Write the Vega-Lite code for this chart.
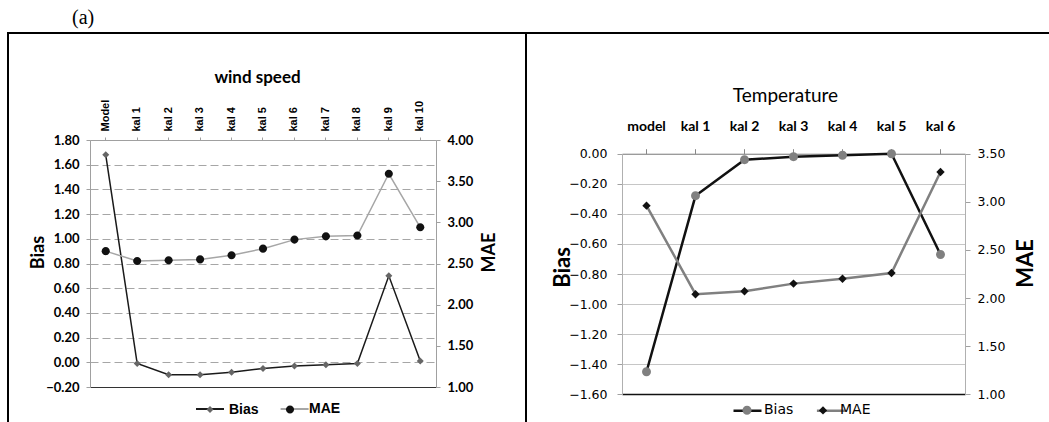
{
  "$schema": "https://vega.github.io/schema/vega-lite/v6.json",
  "autosize": {"type": "pad"},
  "padding": {"left": 7, "top": 8, "right": 0, "bottom": 0},
  "background": "white",
  "title": {"text": "(a)", "anchor": "start", "frame": "group", "dx": 64, "offset": 4, "font": "Liberation Serif", "fontSize": 20, "fontWeight": "normal", "color": "black"},
  "config": {
    "view": {"stroke": "black", "strokeWidth": 2},
    "concat": {"spacing": 0},
    "axis": {"labelColor": "black", "titleColor": "black", "labelOverlap": false}
  },
  "bounds": "flush",
  "spacing": 0,
  "datasets": {
    "wind": [
      {"cat": "Model", "Bias": 1.68, "MAE": 2.65},
      {"cat": "kal 1", "Bias": -0.01, "MAE": 2.53},
      {"cat": "kal 2", "Bias": -0.10, "MAE": 2.54},
      {"cat": "kal 3", "Bias": -0.10, "MAE": 2.55},
      {"cat": "kal 4", "Bias": -0.08, "MAE": 2.60},
      {"cat": "kal 5", "Bias": -0.05, "MAE": 2.68},
      {"cat": "kal 6", "Bias": -0.03, "MAE": 2.79},
      {"cat": "kal 7", "Bias": -0.02, "MAE": 2.83},
      {"cat": "kal 8", "Bias": -0.01, "MAE": 2.84},
      {"cat": "kal 9", "Bias": 0.70, "MAE": 3.59},
      {"cat": "kal 10", "Bias": 0.01, "MAE": 2.94}
    ],
    "temp": [
      {"cat": "model", "Bias": -1.45, "MAE": 2.96},
      {"cat": "kal 1", "Bias": -0.28, "MAE": 2.04},
      {"cat": "kal 2", "Bias": -0.04, "MAE": 2.07},
      {"cat": "kal 3", "Bias": -0.02, "MAE": 2.15},
      {"cat": "kal 4", "Bias": -0.01, "MAE": 2.20},
      {"cat": "kal 5", "Bias": 0.0, "MAE": 2.26},
      {"cat": "kal 6", "Bias": -0.67, "MAE": 3.31}
    ]
  },
  "resolve": {"scale": {"stroke": "independent", "fill": "independent", "shape": "independent"}},
  "hconcat": [
    {
      "width": 518,
      "height": 408,
      "data": {"name": "wind"},
      "encoding": {
        "x": {
          "field": "cat", "type": "nominal", "sort": null,
          "scale": {"type": "band", "range": [82, 428], "paddingInner": 0, "paddingOuter": 0},
          "axis": {
            "orient": "top", "offset": -107, "grid": false,
            "labelAngle": -90, "labelFont": "Liberation Sans", "labelFontSize": 11, "labelFontWeight": "bold", "labelPadding": 6,
            "tickSize": 3, "tickColor": "#a0a0a0", "domainColor": "#a0a0a0",
            "title": "wind speed", "titleX": 249, "titleY": -63, "titleBaseline": "middle", "titleAlign": "center",
            "titleFont": "Lato", "titleFontSize": 17, "titleFontWeight": "bold"
          }
        }
      },
      "layer": [
        {
          "encoding": {
            "y": {
              "field": "Bias", "type": "quantitative",
              "scale": {"domain": [-0.2, 1.8], "range": [354, 107], "nice": false, "zero": false},
              "axis": {
                "orient": "left", "offset": -82,
                "values": [-0.2, 0, 0.2, 0.4, 0.6, 0.8, 1.0, 1.2, 1.4, 1.6, 1.8], "format": ".2f",
                "labelFont": "Lato", "labelFontSize": 13, "labelFontWeight": "bold", "labelPadding": 7,
                "tickSize": 4, "tickColor": "#a0a0a0", "domainColor": "#a0a0a0",
                "grid": true,
                "gridColor": {"condition": {"test": "datum.value < -0.19", "value": "#333333"}, "value": "#a6a6a6"},
                "gridDash": {"condition": {"test": "datum.value < -0.19", "value": []}, "value": [8, 4]},
                "gridWidth": 1,
                "title": "Bias", "titleX": -52, "titleY": 219, "titleAngle": -90, "titleBaseline": "middle", "titleAlign": "center",
                "titleFont": "Lato", "titleFontSize": 18, "titleFontWeight": "bold"
              }
            }
          },
          "layer": [
            {
              "mark": {"type": "line", "strokeWidth": 1.5},
              "encoding": {
                "stroke": {"datum": "Bias", "type": "nominal",
                  "scale": {"domain": ["Bias", "MAE"], "range": ["#1a1a1a", "#a6a6a6"]},
                  "legend": {"title": null, "orient": "none", "legendX": 187, "legendY": 361, "direction": "horizontal", "symbolSize": 784, "symbolType": "M-1,0H1", "symbolStrokeWidth": 2, "labelExpr": "''", "labelFont": "Liberation Sans", "labelFontSize": 14, "labelOffset": 1, "columnPadding": 48.6, "padding": 0, "symbolOpacity": 1, "zindex": 0}}
              }
            },
            {
              "mark": {"type": "point", "filled": true, "opacity": 1, "size": 784},
              "encoding": {
                "fill": {"datum": "Bias ", "type": "nominal",
                  "scale": {"domain": ["Bias ", "MAE "], "range": ["#666666", "#111111"]},
                  "legend": {"title": null, "orient": "none", "legendX": 187, "legendY": 361, "direction": "horizontal", "symbolSize": 784, "labelFont": "Liberation Sans", "labelFontSize": 14, "labelFontWeight": "bold", "labelColor": "black", "labelExpr": "trim(datum.label)", "labelOffset": 4, "columnPadding": 16, "padding": 0, "symbolOpacity": 1, "zindex": 1}},
                "shape": {"datum": "Bias ", "type": "nominal",
                  "scale": {"domain": ["Bias ", "MAE "], "range": ["M0,-0.25L0.25,0L0,0.25L-0.25,0Z", "M0.29,0A0.29,0.29 0 1,1 -0.29,0A0.29,0.29 0 1,1 0.29,0Z"]},
                  "legend": {"title": null, "orient": "none", "legendX": 187, "legendY": 361, "direction": "horizontal", "symbolSize": 784, "labelFont": "Liberation Sans", "labelFontSize": 14, "labelFontWeight": "bold", "labelColor": "black", "labelExpr": "trim(datum.label)", "labelOffset": 4, "columnPadding": 16, "padding": 0, "symbolOpacity": 1, "zindex": 1}}
              }
            }
          ]
        },
        {
          "encoding": {
            "y": {
              "field": "MAE", "type": "quantitative",
              "scale": {"domain": [1, 4], "range": [354, 107], "nice": false, "zero": false},
              "axis": {
                "orient": "right", "offset": -90,
                "values": [1, 1.5, 2, 2.5, 3, 3.5, 4], "format": ".2f",
                "labelFont": "Lato", "labelFontSize": 13, "labelFontWeight": "bold", "labelPadding": 7,
                "tickSize": 4, "tickColor": "#a0a0a0", "domainColor": "#a0a0a0",
                "grid": false,
                "title": "MAE", "titleX": 53, "titleY": 219, "titleAngle": -90, "titleBaseline": "middle", "titleAlign": "center",
                "titleFont": "Lato", "titleFontSize": 18, "titleFontWeight": "bold"
              }
            }
          },
          "layer": [
            {
              "mark": {"type": "line", "strokeWidth": 1.5},
              "encoding": {
                "stroke": {"datum": "MAE", "type": "nominal"}
              }
            },
            {
              "mark": {"type": "point", "filled": true, "opacity": 1, "size": 784},
              "encoding": {
                "fill": {"datum": "MAE ", "type": "nominal"},
                "shape": {"datum": "MAE ", "type": "nominal"}
              }
            }
          ]
        }
      ],
      "resolve": {"scale": {"y": "independent"}}
    },
    {
      "width": 534,
      "height": 408,
      "data": {"name": "temp"},
      "encoding": {
        "x": {
          "field": "cat", "type": "nominal", "sort": null,
          "scale": {"type": "band", "range": [96, 439], "paddingInner": 0, "paddingOuter": 0},
          "axis": {
            "orient": "top", "offset": -120.7, "grid": false,
            "labelAngle": 0, "labelFont": "Lato", "labelFontSize": 14, "labelFontWeight": "bold", "labelPadding": 15,
            "tickSize": 5, "tickColor": "#888888", "domainColor": "#888888",
            "title": "Temperature", "titleX": 259, "titleY": -58.7, "titleBaseline": "middle", "titleAlign": "center",
            "titleFont": "Lato", "titleFontSize": 19, "titleFontWeight": "normal"
          }
        }
      },
      "layer": [
        {
          "encoding": {
            "y": {
              "field": "Bias", "type": "quantitative",
              "scale": {"domain": [-1.6, 0], "range": [361.3, 120.7], "nice": false, "zero": false},
              "axis": {
                "orient": "left", "offset": -96,
                "values": [-1.6, -1.4, -1.2, -1.0, -0.8, -0.6, -0.4, -0.2, 0], "format": ".2f",
                "labelFont": "DejaVu Sans", "labelFontSize": 12.5, "labelFontWeight": "normal", "labelPadding": 10,
                "tickSize": 5, "tickColor": "#a0a0a0", "domainColor": "#b0b0b0",
                "grid": true,
                "gridColor": {"condition": {"test": "datum.value < -1.59", "value": "#111111"}, "value": "#8c8c8c"},
                "gridDash": {"condition": {"test": "datum.value < -1.59", "value": []}, "value": [1, 1]},
                "gridWidth": {"condition": {"test": "datum.value < -1.59", "value": 1.5}, "value": 1},
                "title": "Bias", "titleX": -60, "titleY": 234, "titleAngle": -90, "titleBaseline": "middle", "titleAlign": "center",
                "titleFont": "Lato", "titleFontSize": 22, "titleFontWeight": "bold"
              }
            }
          },
          "layer": [
            {
              "mark": {"type": "line", "strokeWidth": 2.5},
              "encoding": {
                "stroke": {"datum": "Bias", "type": "nominal",
                  "scale": {"domain": ["Bias", "MAE"], "range": ["#111111", "#808080"]},
                  "legend": {"title": null, "orient": "none", "legendX": 206, "legendY": 362, "direction": "horizontal", "symbolSize": 784, "symbolType": "M-1,0H1", "symbolStrokeWidth": 2.5, "labelExpr": "''", "labelFont": "DejaVu Sans", "labelFontSize": 14, "labelOffset": 1, "columnPadding": 44.4, "padding": 0, "symbolOpacity": 1, "zindex": 0}}
              }
            },
            {
              "mark": {"type": "point", "filled": true, "opacity": 1, "size": 784},
              "encoding": {
                "fill": {"datum": "Bias ", "type": "nominal",
                  "scale": {"domain": ["Bias ", "MAE "], "range": ["#808080", "#111111"]},
                  "legend": {"title": null, "orient": "none", "legendX": 206, "legendY": 362, "direction": "horizontal", "symbolSize": 784, "labelFont": "DejaVu Sans", "labelFontSize": 14, "labelFontWeight": "normal", "labelColor": "black", "labelExpr": "trim(datum.label)", "labelOffset": 2, "columnPadding": 14, "padding": 0, "symbolOpacity": 1, "zindex": 1}},
                "shape": {"datum": "Bias ", "type": "nominal",
                  "scale": {"domain": ["Bias ", "MAE "], "range": ["M0.32,0A0.32,0.32 0 1,1 -0.32,0A0.32,0.32 0 1,1 0.32,0Z", "M0,-0.3L0.3,0L0,0.3L-0.3,0Z"]},
                  "legend": {"title": null, "orient": "none", "legendX": 206, "legendY": 362, "direction": "horizontal", "symbolSize": 784, "labelFont": "DejaVu Sans", "labelFontSize": 14, "labelFontWeight": "normal", "labelColor": "black", "labelExpr": "trim(datum.label)", "labelOffset": 2, "columnPadding": 14, "padding": 0, "symbolOpacity": 1, "zindex": 1}}
              }
            }
          ]
        },
        {
          "encoding": {
            "y": {
              "field": "MAE", "type": "quantitative",
              "scale": {"domain": [1, 3.5], "range": [361.3, 120.7], "nice": false, "zero": false},
              "axis": {
                "orient": "right", "offset": -95,
                "values": [1, 1.5, 2, 2.5, 3, 3.5], "format": ".2f",
                "labelFont": "DejaVu Sans", "labelFontSize": 12.5, "labelFontWeight": "normal", "labelPadding": 7,
                "tickSize": 5, "tickColor": "#a0a0a0", "domainColor": "#b0b0b0",
                "grid": false,
                "title": "MAE", "titleX": 60, "titleY": 230, "titleAngle": -90, "titleBaseline": "middle", "titleAlign": "center",
                "titleFont": "Lato", "titleFontSize": 22, "titleFontWeight": "bold"
              }
            }
          },
          "layer": [
            {
              "mark": {"type": "line", "strokeWidth": 2.5},
              "encoding": {
                "stroke": {"datum": "MAE", "type": "nominal"}
              }
            },
            {
              "mark": {"type": "point", "filled": true, "opacity": 1, "size": 784},
              "encoding": {
                "fill": {"datum": "MAE ", "type": "nominal"},
                "shape": {"datum": "MAE ", "type": "nominal"}
              }
            }
          ]
        }
      ],
      "resolve": {"scale": {"y": "independent"}}
    }
  ]
}
